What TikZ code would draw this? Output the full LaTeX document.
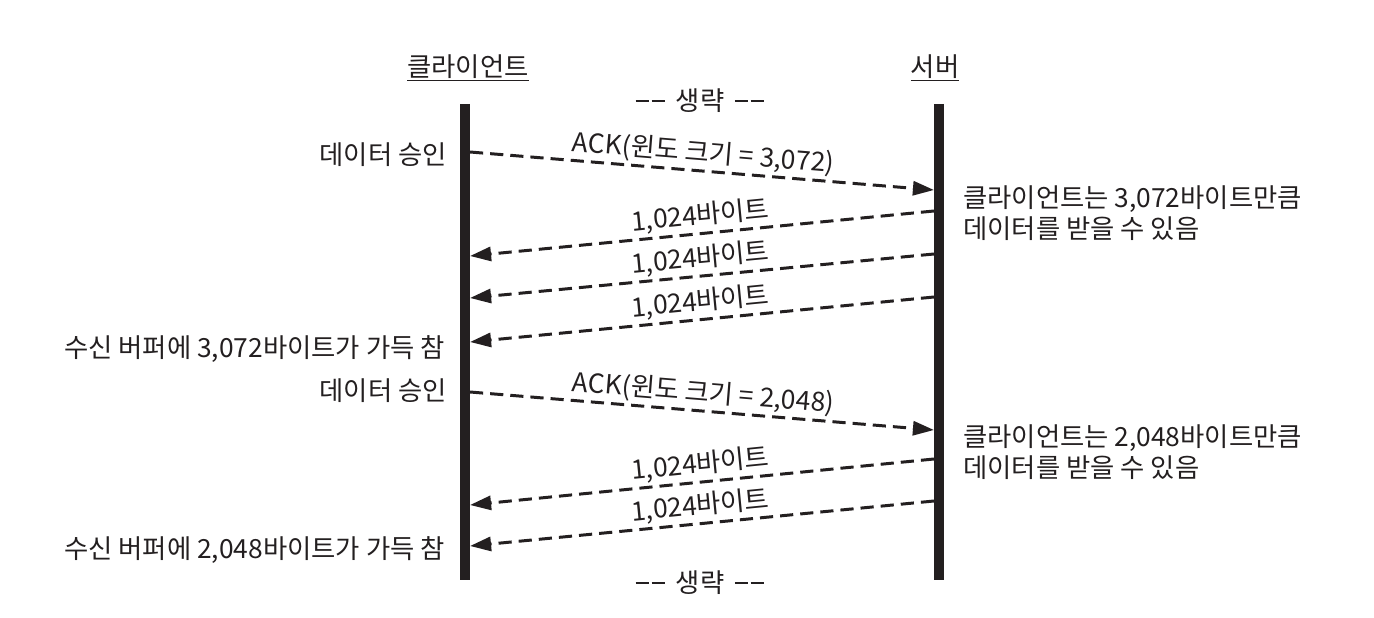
\documentclass[tikz,border=0pt]{standalone}
\usepackage{fontspec}
\setmainfont{Noto Sans CJK KR}
\usetikzlibrary{arrows.meta, positioning}
\definecolor{ink}{HTML}{231F20}
\newcommand{\skipdash}{\rule[0.33em]{0.52em}{0.07em}\kern0.08em\rule[0.33em]{0.52em}{0.07em}}

\begin{document}
\begin{tikzpicture}[
        x=0.02cm, y=-0.02cm,
        font=\fontsize{15}{17.6}\selectfont,
        color=ink,
        >={Triangle[length=12pt, width=8pt]},
        lifeline/.style={line width=5.7pt},
        msg/.style={->, line width=1.7pt, dash pattern=on 7.5pt off 4pt},
        tag/.style={sloped, above, inner sep=1.5pt},
        note/.style={align=left, inner sep=0pt}
    ]
    \useasboundingbox (0,0) rectangle (1374,618);

    % Lifelines
    \node (client) at (468,68) {\underline{클라이언트}};
    \node (server) at (935,68) {\underline{서버}};
    \coordinate (ctop) at (465,104);
    \coordinate (cbot) at (465,580);
    \coordinate (stop) at (939,104);
    \coordinate (sbot) at (939,580);
    \draw[lifeline] (ctop) -- (cbot);
    \draw[lifeline] (stop) -- (sbot);

    % Omitted parts
    \node (skiptop) at (700,101) {\skipdash\hspace{0.4em}생략\hspace{0.4em}\skipdash};
    \node (skipbot) at (700,583) {\skipdash\hspace{0.4em}생략\hspace{0.4em}\skipdash};

    % Message end points
    \coordinate (c1) at (470,152);  \coordinate (s1) at (934,190);
    \coordinate (s2) at (934,211);  \coordinate (c2) at (470,256);
    \coordinate (s3) at (934,254);  \coordinate (c3) at (470,298);
    \coordinate (s4) at (934,297);  \coordinate (c4) at (470,342);
    \coordinate (c5) at (470,392);  \coordinate (s5) at (934,430);
    \coordinate (s6) at (934,459);  \coordinate (c6) at (470,505);
    \coordinate (s7) at (934,501);  \coordinate (c7) at (470,546);

    % Round 1: window 3,072
    \node[anchor=east, inner sep=0pt] (ack1) at (447,155) {데이터 승인};
    \draw[msg] (c1) -- node[tag] {ACK(윈도 크기 = 3,072)} (s1);
    \node[note, anchor=west] (win1) at (963,213) {클라이언트는 3,072바이트만큼\\데이터를 받을 수 있음};
    \draw[msg] (s2) -- node[tag] {1,024바이트} (c2);
    \draw[msg] (s3) -- node[tag] {1,024바이트} (c3);
    \draw[msg] (s4) -- node[tag] {1,024바이트} (c4);
    \node[anchor=east, inner sep=0pt] (full1) at (445,349) {수신 버퍼에 3,072바이트가 가득 참};

    % Round 2: window 2,048
    \node[anchor=east, inner sep=0pt] (ack2) at (447,391) {데이터 승인};
    \draw[msg] (c5) -- node[tag] {ACK(윈도 크기 = 2,048)} (s5);
    \node[note, anchor=west] (win2) at (963,452) {클라이언트는 2,048바이트만큼\\데이터를 받을 수 있음};
    \draw[msg] (s6) -- node[tag] {1,024바이트} (c6);
    \draw[msg] (s7) -- node[tag] {1,024바이트} (c7);
    \node[anchor=east, inner sep=0pt] (full2) at (445,550) {수신 버퍼에 2,048바이트가 가득 참};

\end{tikzpicture}
\end{document}
